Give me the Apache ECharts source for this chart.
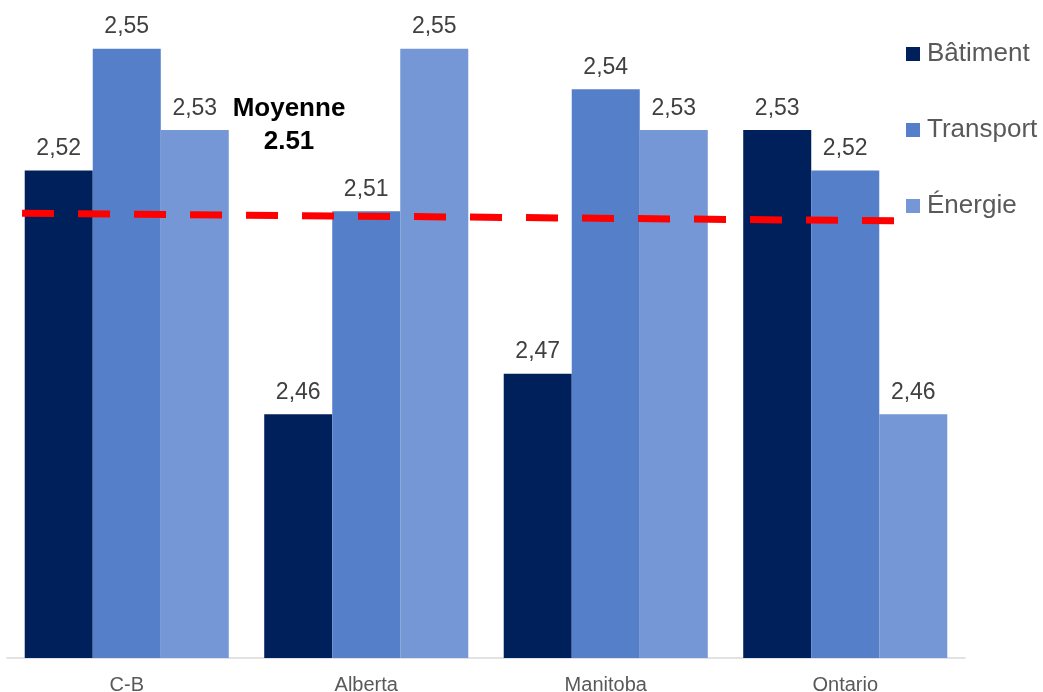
<!DOCTYPE html>
<html>
<head>
<meta charset="utf-8">
<script src="https://cdn.jsdelivr.net/npm/echarts@6/dist/echarts.min.js"></script>
<style>html,body{margin:0;padding:0;background:#fff}#c{width:1043px;height:692px}</style>
</head>
<body>
<div id="c"></div>
<script>
const categories = ['C-B', 'Alberta', 'Manitoba', 'Ontario'];
const seriesNames = ['Bâtiment', 'Transport', 'Énergie'];
const batiment = [2.52, 2.46, 2.47, 2.53];
const transport = [2.55, 2.51, 2.54, 2.52];
const energie = [2.53, 2.55, 2.53, 2.46];
// average dashed line endpoints: [relative x position, value]
const averageLine = [[0.0157, 2.5095], [0.927, 2.5076]];
const averageText = 'Moyenne\n2.51';
const colors = ['#00205C', '#5580C9', '#7597D5'];

const chart = echarts.init(document.getElementById('c'));
const FONT = '"Liberation Sans", Arial, sans-serif';
function barSeries(name, data, color) {
  return {
    name: name, type: 'bar', data: data,
    barGap: '0%', barCategoryGap: '14.8%',
    itemStyle: { color: color },
    label: {
      show: true, position: 'top', distance: 10,
      color: '#404040', fontSize: 23, fontFamily: FONT,
      formatter: p => p.value.toFixed(2).replace('.', ',')
    }
  };
}
chart.setOption({
  animation: false,
  color: colors,
  grid: { left: 7, right: 78, top: 8, bottom: 34, containLabel: false, outerBoundsMode: 'none' },
  legend: {
    orient: 'vertical', left: 906, top: 41, padding: 0,
    itemWidth: 14, itemHeight: 14, itemGap: 50, icon: 'rect',
    textStyle: { color: '#595959', fontSize: 26, fontFamily: FONT, padding: [0, 0, 0, 2] },
    data: seriesNames
  },
  xAxis: [{
    type: 'category', data: categories,
    axisLine: { lineStyle: { color: '#D9D9D9', width: 1.5 } },
    axisTick: { show: false },
    axisLabel: { color: '#595959', fontSize: 20, fontFamily: FONT, margin: 17 }
  }, {
    type: 'value', min: 0, max: 1, show: false
  }],
  yAxis: {
    type: 'value', min: 2.40, max: 2.56, interval: 0.02, show: false,
    splitLine: { show: false }
  },
  graphic: [{
    type: 'text', x: 289, y: 92,
    style: {
      text: averageText, fill: '#000', font: 'bold 26px ' + FONT,
      textAlign: 'center', align: 'center', lineHeight: 33
    }
  }],
  series: [
    barSeries(seriesNames[0], batiment, colors[0]),
    barSeries(seriesNames[1], transport, colors[1]),
    barSeries(seriesNames[2], energie, colors[2]),
    {
      type: 'line', xAxisIndex: 1, data: averageLine, symbol: 'none',
      lineStyle: { color: '#FF0000', width: 7, type: [32, 24] },
      z: 5, silent: true
    }
  ]
});
</script>
</body>
</html>
